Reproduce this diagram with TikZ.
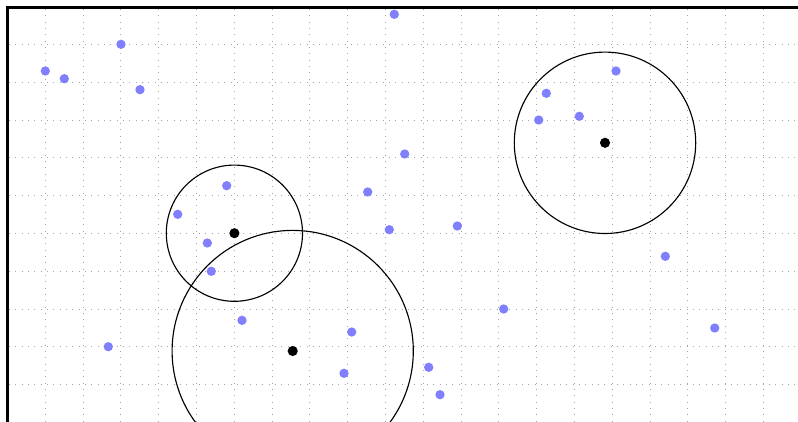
\documentclass[tikz,border=0pt]{standalone}
\begin{document}
\begin{tikzpicture}[x=0.75pt,y=-0.75pt,
  gridline/.style={gray!70,line width=0.75pt,dash pattern=on 0.75pt off 4.0pt},
  axisline/.style={black,line width=2.2pt},
  datapt/.style={circle,fill=blue!50,inner sep=0pt,minimum size=7pt},
  centerpt/.style={circle,fill=black,inner sep=0pt,minimum size=7.6pt},
  ring/.style={black,line width=0.85pt}]
\clip (0,0) rectangle (798,421);
% grid
\foreach \k in {0,...,19} \draw[gridline] ({45.3+37.8*\k},9) -- ({45.3+37.8*\k},421);
\foreach \k in {0,...,9} \draw[gridline] (9,{44.4+37.8*\k}) -- (798,{44.4+37.8*\k});
% axes
\draw[axisline] (7.6,425) -- (7.6,7.6) -- (800,7.6);
% data points
\foreach \n/\x/\y in {p1/394.3/14.3, p2/121/44.3, p3/45.3/71, p4/64.3/78.7, p5/140/89.7,
  p6/616/71, p7/546.3/93.3, p8/538.7/120, p9/579.3/116.3, p10/404.7/154,
  p11/226.7/185.7, p12/367.7/192, p13/177.7/214.3, p14/389.3/229.7, p15/457.3/226,
  p16/207.3/243, p17/211.3/271.3, p18/665.3/256.3, p19/503.7/309, p20/714.7/328,
  p21/242/320.3, p22/351.7/332, p23/108.3/346.7, p24/344/373.3, p25/428.7/367.3,
  p26/440/394.7}
  \node[datapt] (\n) at (\x,\y) {};
% centers
\node[centerpt] (c1) at (234.4,233.2) {};
\node[centerpt] (c2) at (292.7,351) {};
\node[centerpt] (c3) at (605,142.8) {};
\draw[ring] (c1.center) circle[radius=68.1];
\draw[ring] (c2.center) circle[radius=120.6];
\draw[ring] (c3.center) circle[radius=90.7];
\end{tikzpicture}
\end{document}
